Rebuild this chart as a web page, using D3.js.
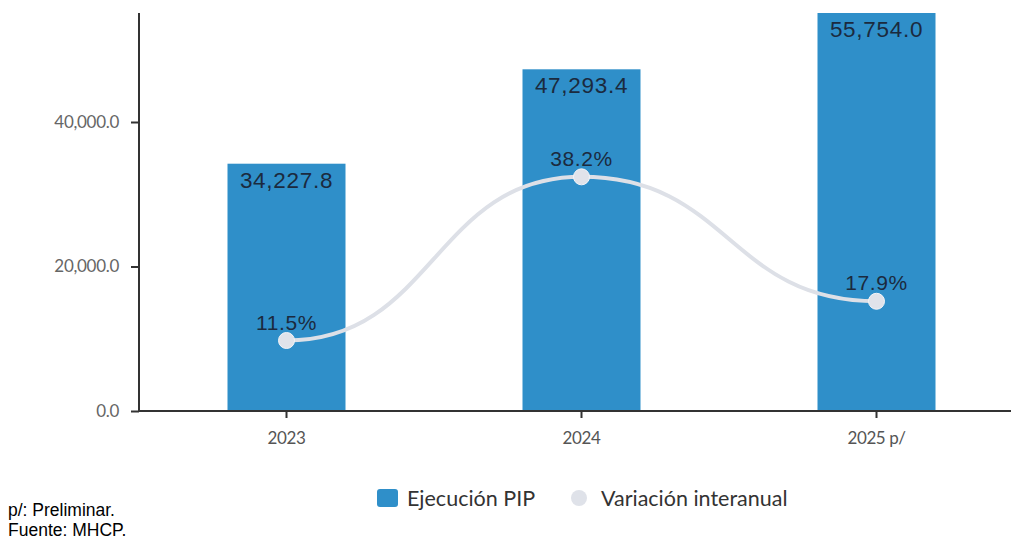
<!DOCTYPE html>
<html>
<head>
<meta charset="utf-8">
<script src="https://cdn.jsdelivr.net/npm/d3@7"></script>
<style>
  body { margin: 0; background: #fff; }
  svg { display: block; }
</style>
</head>
<body>
<svg id="chart"></svg>
<script>
(function(){
    "use strict";

    // chart data
    const years = ["2023", "2024", "2025 p/"];
    const ejecucion = [34227.8, 47293.4, 55754.0];
    const variacion = [11.5, 38.2, 17.9];
    const yTicks = [0, 20000, 40000];
    const legendLabels = ["Ejecución PIP", "Variación interanual"];
    const notes = ["p/: Preliminar.", "Fuente: MHCP."];

    const width = 1011,
        height = 541,
        left = 139,
        top = 13,
        bottom = 411,
        right = 1024;

    const barColor = "#2f8fc9",
        lineColor = "#dde0e7",
        labelColor = "#1b2a3e";

    let svg = d3.select("svg#chart")
        .attr("width", width)
        .attr("height", height);

    let x = d3.scaleBand()
        .domain(years)
        .range([left, right])
        .paddingInner(0.6)
        .paddingOuter(0.3);

    // 20,000 per ~144.5px
    let y = d3.scaleLinear()
        .domain([0, (bottom - top) / 144.5 * 20000])
        .range([bottom, top]);

    // hidden secondary axis for the percentages
    let y2 = d3.scaleLinear()
        .domain([0, (bottom - top) / 6.13])
        .range([bottom, top]);

    svg.append("clipPath").attr("id", "plot-clip")
        .append("rect")
        .attr("x", left).attr("y", top)
        .attr("width", right - left).attr("height", bottom - top);

    // bars
    svg.append("g")
        .attr("clip-path", "url(#plot-clip)")
        .selectAll("rect")
        .data(ejecucion)
        .enter().append("rect")
        .attr("x", (d, i) => x(years[i]))
        .attr("y", d => y(d))
        .attr("width", x.bandwidth())
        .attr("height", d => bottom - y(d))
        .attr("fill", barColor);

    // bar labels
    svg.append("g")
        .selectAll("text")
        .data(ejecucion)
        .enter().append("text")
        .attr("x", (d, i) => x(years[i]) + x.bandwidth() / 2)
        .attr("y", d => Math.max(y(d), top) + 24)
        .attr("text-anchor", "middle")
        .style("font-family", "'Liberation Sans', Arial, sans-serif")
        .style("font-size", "22.5px")
        .style("letter-spacing", "0.7px")
        .style("fill", labelColor)
        .text(d => d3.format(",.1f")(d));

    // y axis
    let yAxis = svg.append("g")
        .attr("transform", `translate(${left},0)`)
        .call(d3.axisLeft(y).tickValues(yTicks).tickSize(8).tickPadding(12)
            .tickFormat(d3.format(",.1f")));
    yAxis.select(".domain").attr("stroke", "#333").attr("stroke-width", 2)
        .attr("d", `M0,${top}V${bottom}`);
    yAxis.selectAll(".tick line").attr("stroke", "#333").attr("stroke-width", 2);
    yAxis.selectAll(".tick text")
        .style("font-family", "Lato, sans-serif")
        .style("font-size", "17px")
        .style("letter-spacing", "-0.3px")
        .style("fill", "#666");

    // x axis
    let xAxis = svg.append("g")
        .attr("transform", `translate(0,${bottom})`)
        .call(d3.axisBottom(x).tickSize(7).tickPadding(14));
    xAxis.select(".domain").attr("stroke", "#333").attr("stroke-width", 2)
        .attr("d", `M${left},0H${right}`);
    xAxis.selectAll(".tick line").attr("stroke", "#333").attr("stroke-width", 2);
    xAxis.selectAll(".tick text")
        .style("font-family", "Lato, sans-serif")
        .style("font-size", "17px")
        .style("letter-spacing", "-0.4px")
        .style("fill", "#555");

    // line
    let line = d3.line()
        .x((d, i) => x(years[i]) + x.bandwidth() / 2)
        .y(d => y2(d))
        .curve(d3.curveBumpX);

    svg.append("path")
        .datum(variacion)
        .attr("d", line)
        .attr("fill", "none")
        .attr("stroke", lineColor)
        .attr("stroke-width", 4);

    svg.append("g")
        .selectAll("circle")
        .data(variacion)
        .enter().append("circle")
        .attr("cx", (d, i) => x(years[i]) + x.bandwidth() / 2)
        .attr("cy", d => y2(d))
        .attr("r", 8)
        .attr("fill", "#e0e3ea")
        .attr("stroke", "#f4f5f8")
        .attr("stroke-width", 1);

    svg.append("g")
        .selectAll("text")
        .data(variacion)
        .enter().append("text")
        .attr("x", (d, i) => x(years[i]) + x.bandwidth() / 2)
        .attr("y", d => y2(d) - 11)
        .attr("text-anchor", "middle")
        .style("font-family", "'Liberation Sans', Arial, sans-serif")
        .style("font-size", "21px")
        .style("letter-spacing", "0.6px")
        .style("fill", labelColor)
        .text(d => d3.format(".1f")(d) + "%");

    // legend
    let legend = svg.append("g");
    legend.append("rect")
        .attr("x", 377).attr("y", 489)
        .attr("width", 21).attr("height", 18)
        .attr("rx", 3)
        .attr("fill", barColor);
    legend.append("circle")
        .attr("cx", 579).attr("cy", 498)
        .attr("r", 8)
        .attr("fill", "#dfe2e9");
    legend.selectAll("text")
        .data(legendLabels)
        .enter().append("text")
        .attr("x", (d, i) => i === 0 ? 407 : 601)
        .attr("y", 506)
        .style("font-family", "Lato, sans-serif")
        .style("font-size", "21.5px")
        .style("fill", "#333")
        .text(d => d);

    // notes
    svg.append("g")
        .selectAll("text")
        .data(notes)
        .enter().append("text")
        .attr("x", 8)
        .attr("y", (d, i) => 516 + i * 20)
        .style("font-family", "'Liberation Sans', Arial, sans-serif")
        .style("font-size", "17.5px")
        .style("fill", "#000")
        .text(d => d);
})();
</script>
</body>
</html>
